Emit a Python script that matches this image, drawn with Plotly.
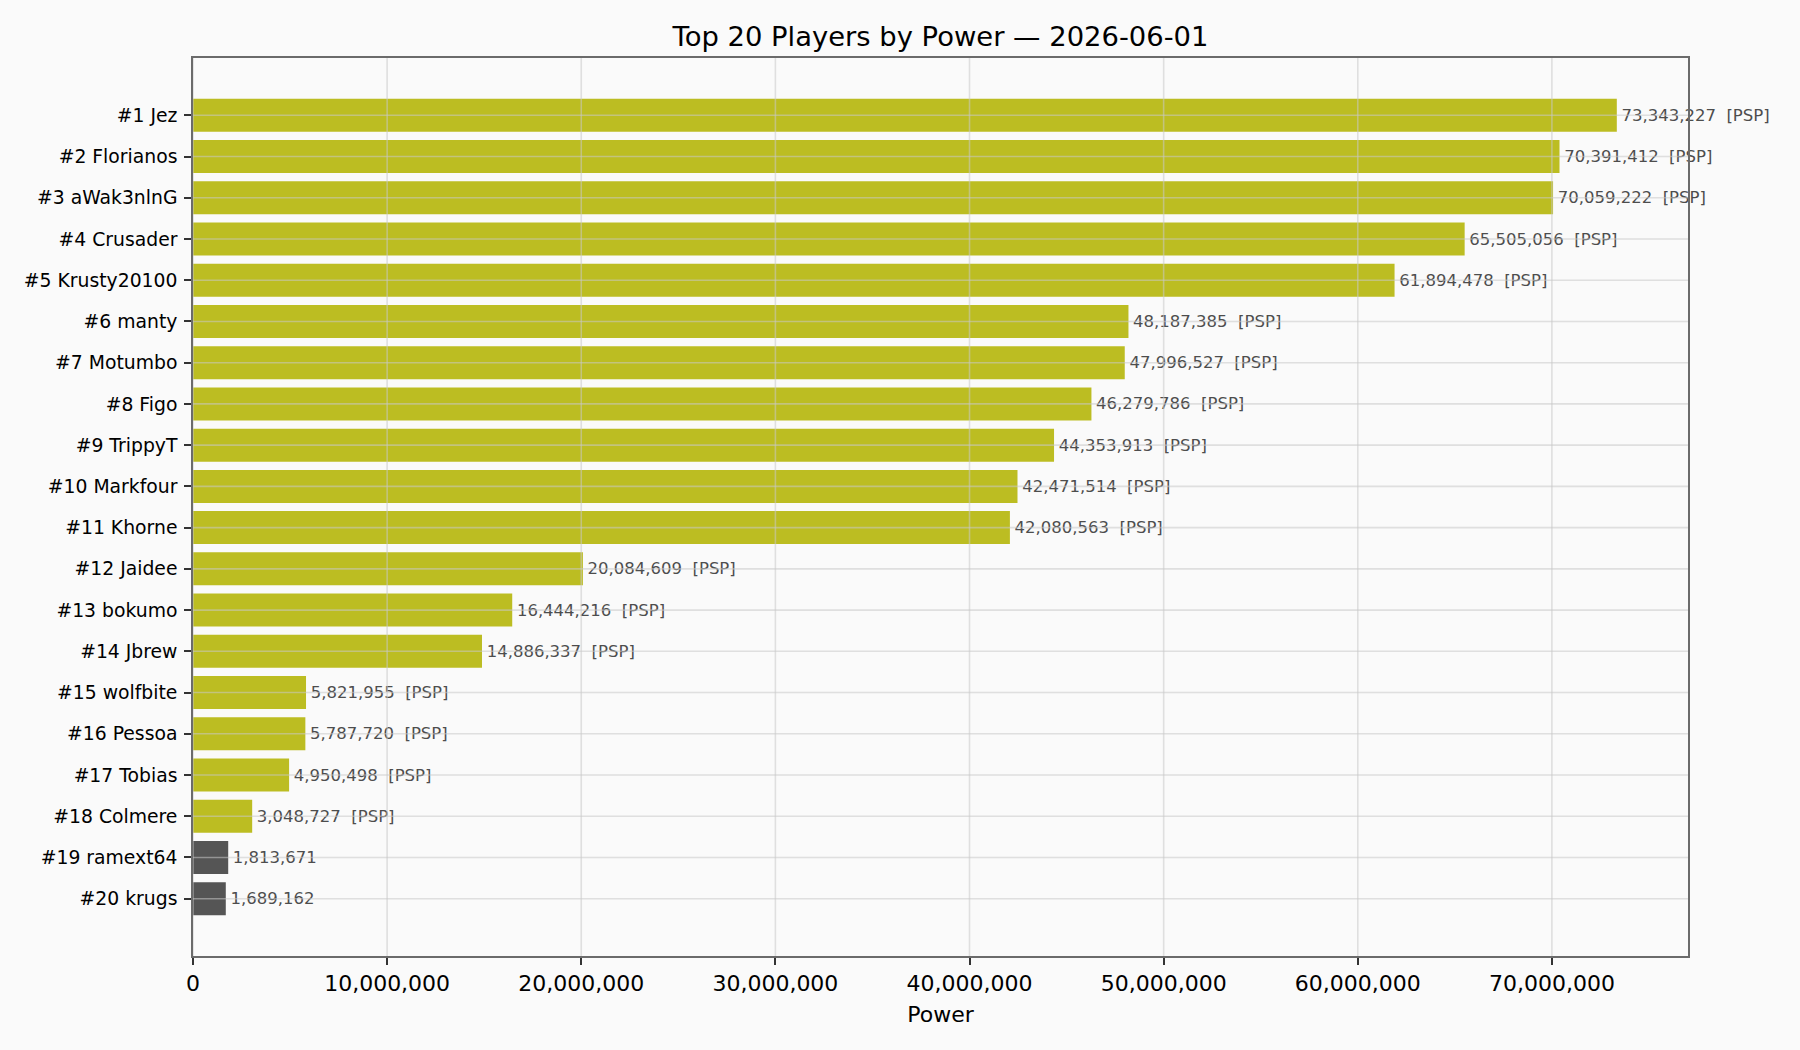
import plotly.graph_objects as go

ranks = list(range(1, 21))
players = ["Jez", "Florianos", "aWak3nlnG", "Crusader", "Krusty20100", "manty", "Motumbo",
           "Figo", "TrippyT", "Markfour", "Khorne", "Jaidee", "bokumo", "Jbrew", "wolfbite",
           "Pessoa", "Tobias", "Colmere", "ramext64", "krugs"]
power = [73343227, 70391412, 70059222, 65505056, 61894478, 48187385, 47996527,
         46279786, 44353913, 42471514, 42080563, 20084609, 16444216, 14886337, 5821955,
         5787720, 4950498, 3048727, 1813671, 1689162]
tags = ["PSP"] * 18 + ["", ""]
x_ticks = [0, 10000000, 20000000, 30000000, 40000000, 50000000, 60000000, 70000000]
title_text = "Top 20 Players by Power \u2014 2026-06-01"

OLIVE = "#bcbd22"
DARK = "#555555"
BG = "#fafafa"
GRID = "rgba(200,200,200,0.55)"

labels = [f"#{r} {p}" for r, p in zip(ranks, players)]
colors = [OLIVE if t else DARK for t in tags]
texts = ["\u200a" + f"{v:,}" + (f"\u00a0\u00a0[{t}]" if t else "") for v, t in zip(power, tags)]

fig = go.Figure()
fig.add_trace(go.Bar(
    x=power, y=labels, orientation="h", width=0.8,
    marker=dict(color=colors, line=dict(width=0)),
    text=texts, textposition="outside", textangle=0, constraintext="none",
    cliponaxis=False,
    textfont=dict(size=16.5, color="#4d4d4d", family="DejaVu Sans"),
    hoverinfo="skip",
))

shapes = []
for xv in x_ticks:
    shapes.append(dict(type="line", xref="x", yref="paper", x0=xv, x1=xv, y0=0, y1=1,
                       line=dict(color=GRID, width=1.6), layer="above"))
for lab in labels:
    shapes.append(dict(type="line", xref="paper", yref="y", x0=0, x1=1, y0=lab, y1=lab,
                       line=dict(color=GRID, width=1.6), layer="above"))

xmax = max(power) * 1.05
n = len(labels)
pad = 0.4 + 0.05 * (n - 1 + 0.8)

fig.update_layout(
    width=1800, height=1050,
    paper_bgcolor=BG, plot_bgcolor=BG,
    margin=dict(l=193, r=112, t=58, b=94, pad=0),
    font=dict(family="DejaVu Sans", color="#000000"),
    showlegend=False,
    shapes=shapes,
    title=dict(text=title_text, x=0.5, xref="paper", xanchor="center",
               y=1 - 36.5 / 1050, yref="container", yanchor="middle",
               font=dict(size=27.4, color="#000000")),
    xaxis=dict(
        range=[0, xmax], tickvals=x_ticks, tickformat=",d",
        showgrid=False, zeroline=False,
        showline=True, linecolor="#6b6b6b", linewidth=1.6, mirror=True,
        ticks="outside", ticklen=7, tickwidth=1.6, tickcolor="#333333",
        tickfont=dict(size=22, color="#000000"),
        title=dict(text="Power", font=dict(size=22, color="#000000"), standoff=11),
    ),
    yaxis=dict(
        type="category", categoryorder="array", categoryarray=labels,
        range=[n - 1 + pad, -pad],
        showgrid=False, zeroline=False,
        showline=True, linecolor="#6b6b6b", linewidth=1.6, mirror=True,
        ticks="outside", ticklen=7, tickwidth=1.6, tickcolor="#333333",
        tickfont=dict(size=18.8, color="#000000"),
        ticklabelstandoff=3,
    ),
)

fig.write_html("out.html")
